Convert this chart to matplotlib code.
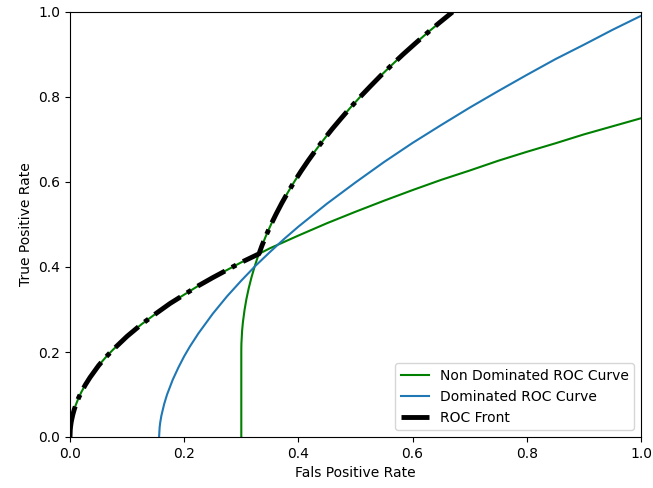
import matplotlib
matplotlib.use("Agg")
import matplotlib.pyplot as plt


# non dominated curve, part 1 (starts at the origin)
nd1_fpr = [0.0, 0.0005, 0.001, 0.002, 0.003, 0.005, 0.0075, 0.01, 0.015, 0.02,
           0.027, 0.035, 0.05, 0.0625, 0.075, 0.1, 0.125, 0.15, 0.175, 0.2,
           0.225, 0.25, 0.275, 0.3, 0.331, 0.35, 0.4, 0.45, 0.5, 0.55, 0.6,
           0.65, 0.7, 0.75, 0.8, 0.85, 0.9, 0.95, 1.0]
nd1_tpr = [0.0, 0.017, 0.024, 0.034, 0.041, 0.053, 0.065, 0.075, 0.092, 0.106,
           0.123, 0.140, 0.168, 0.1875, 0.205, 0.237, 0.265, 0.290, 0.314, 0.335,
           0.356, 0.375, 0.393, 0.411, 0.431, 0.444, 0.474, 0.503, 0.530, 0.556,
           0.581, 0.605, 0.627, 0.650, 0.671, 0.691, 0.712, 0.731, 0.750]

# non dominated curve, part 2 (vertical start at fpr = 0.3)
nd2_fpr = [0.3, 0.3, 0.30006, 0.3002, 0.3014, 0.3028, 0.3058, 0.3090, 0.313,
           0.3177, 0.3231, 0.3306, 0.3361, 0.3437, 0.352, 0.3611, 0.3708,
           0.3813, 0.3925, 0.4044, 0.417, 0.4304, 0.4445, 0.4593, 0.475,
           0.4911, 0.508, 0.5258, 0.544, 0.5633, 0.583, 0.6038, 0.625, 0.6471,
           0.670]
nd2_tpr = [0.0, 0.2, 0.21, 0.22, 0.25, 0.27, 0.30, 0.325, 0.35,
           0.375, 0.40, 0.431, 0.45, 0.475, 0.50, 0.525, 0.55,
           0.575, 0.60, 0.625, 0.65, 0.675, 0.70, 0.725, 0.75,
           0.775, 0.80, 0.825, 0.85, 0.875, 0.90, 0.925, 0.95, 0.975,
           1.0]

# dominated curve
dom_fpr = [0.156, 0.157, 0.158, 0.16, 0.165, 0.17, 0.18, 0.19, 0.20, 0.21,
           0.225, 0.25, 0.275, 0.30, 0.325, 0.35, 0.375, 0.40, 0.45, 0.50,
           0.55, 0.60, 0.65, 0.70, 0.75, 0.80, 0.85, 0.90, 0.95, 1.0]
dom_tpr = [0.0, 0.023, 0.034, 0.050, 0.078, 0.100, 0.135, 0.164, 0.190, 0.213,
           0.244, 0.290, 0.331, 0.368, 0.403, 0.435, 0.466, 0.495, 0.549, 0.599,
           0.647, 0.692, 0.734, 0.775, 0.814, 0.852, 0.889, 0.923, 0.958, 0.991]

# roc front = upper envelope of the two non dominated parts
switch_fpr = 0.331
switch_tpr = 0.431
front_fpr = [x for x in nd1_fpr if x <= switch_fpr] + \
    [x for x, y in zip(nd2_fpr, nd2_tpr) if y > switch_tpr]
front_tpr = [y for x, y in zip(nd1_fpr, nd1_tpr) if x <= switch_fpr] + \
    [y for y in nd2_tpr if y > switch_tpr]


fig = plt.figure(figsize=(6.53, 4.88), dpi=100)
ax = fig.add_axes([70 / 653, 51 / 488, 571 / 653, 425 / 488])

ax.plot(nd1_fpr, nd1_tpr, color="g", label="Non Dominated ROC Curve")
ax.plot(nd2_fpr, nd2_tpr, color="g")
ax.plot(dom_fpr, dom_tpr, color="C0", label="Dominated ROC Curve")
ax.plot(front_fpr, front_tpr, color="k", linestyle="-.", linewidth=3.5,
        label="ROC Front")

ax.set_xlim(0, 1)
ax.set_ylim(0, 1)
ax.set_xlabel("Fals Positive Rate")
ax.set_ylabel("True Positive Rate")
ax.legend(loc="lower right")

fig.savefig("out.png", dpi=100)
